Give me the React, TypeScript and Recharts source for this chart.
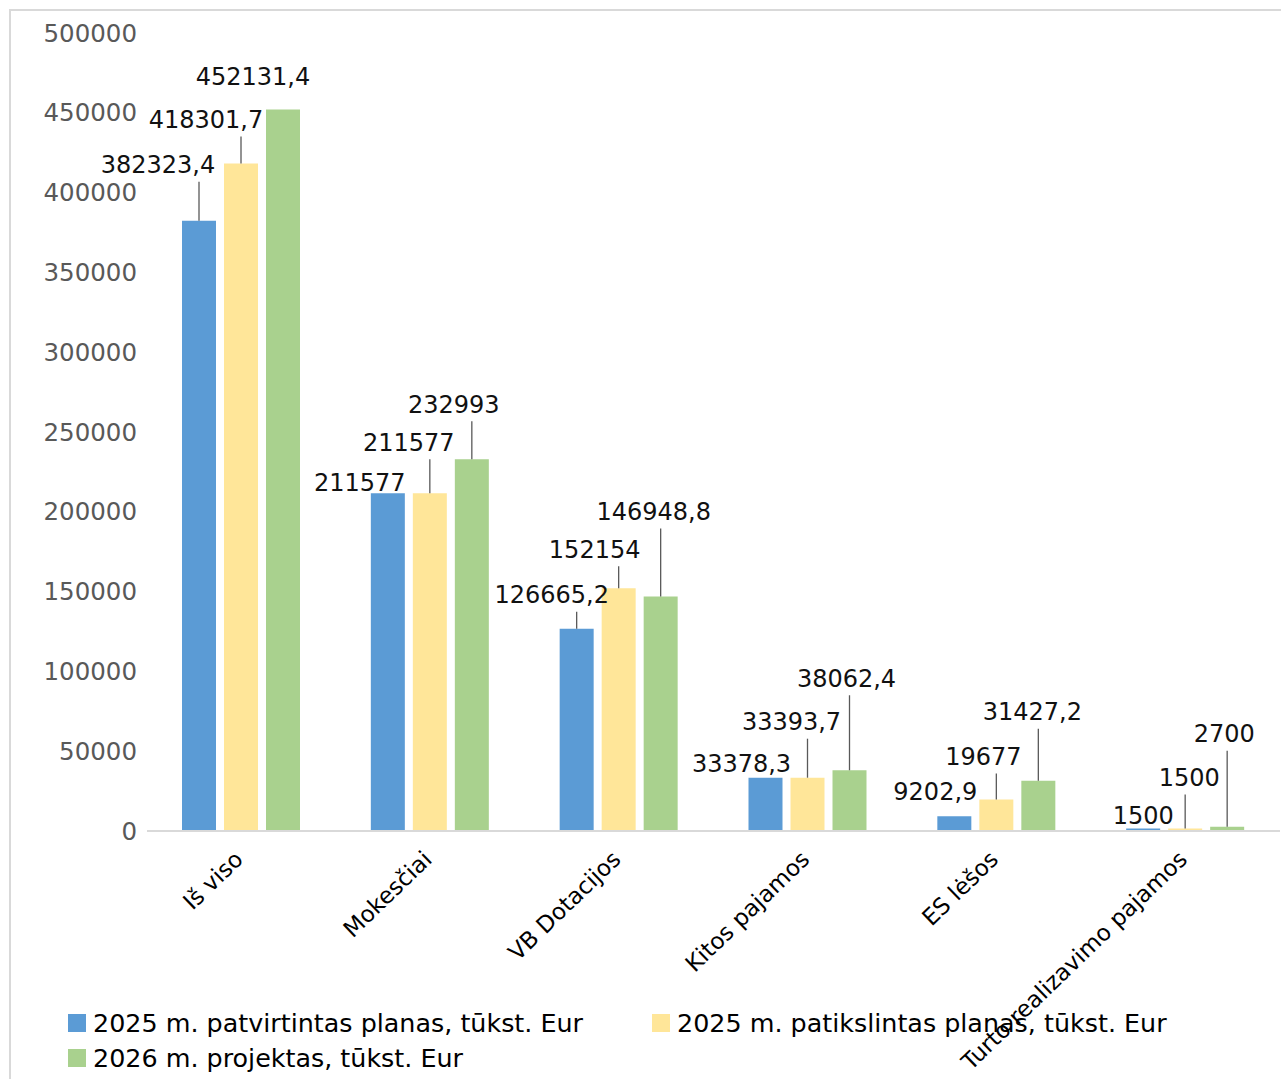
import React from "react";
import { BarChart, Bar, XAxis, YAxis, LabelList, Legend } from "recharts";

const categories: string[] = [
  "Iš viso",
  "Mokesčiai",
  "VB Dotacijos",
  "Kitos pajamos",
  "ES lėšos",
  "Turto realizavimo pajamos",
];

const approved2025: number[] = [382323.4, 211577, 126665.2, 33378.3, 9202.9, 1500];
const revised2025: number[] = [418301.7, 211577, 152154, 33393.7, 19677, 1500];
const project2026: number[] = [452131.4, 232993, 146948.8, 38062.4, 31427.2, 2700];

const seriesNames: string[] = [
  "2025 m. patvirtintas planas, tūkst. Eur",
  "2025 m. patikslintas planas, tūkst. Eur",
  "2026 m. projektas, tūkst. Eur",
];

const yTicks: number[] = [0, 50000, 100000, 150000, 200000, 250000, 300000, 350000, 400000, 450000, 500000];

const colors = ["#5B9BD5", "#FFE699", "#A9D18E"];
const seriesKeys = ["approved", "revised", "project"];

// label centre relative to the top centre of its bar (placed by hand, like the original)
const labelOffsets: [number, number][][] = [
  [[-41, -56], [-28, -11], [-25, -34], [-24, -14], [-19, -25], [0, -13]],
  [[-35, -44], [-21, -51], [-24, -39], [-16, -56], [-13, -43], [4, -51]],
  [[-30, -33], [-18, -55], [-7, -85], [-3, -92], [-6, -69], [-3, -93]],
];

const data = categories.map((name, i) => ({
  name,
  approved: approved2025[i],
  revised: revised2025[i],
  project: project2026[i],
}));

const FONT = "'DejaVu Sans', sans-serif";

const fmt = (v: number) => String(v).replace(".", ",");

const makeLabel = (s: number) => (props: any) => {
  const { x, y, width, value, index } = props;
  const cx = Number(x) + Number(width) / 2;
  const top = Number(y);
  const [dx, dy] = labelOffsets[s][index];
  const lx = cx + dx;
  const ly = top + dy;
  const lineTop = ly + 17;
  return (
    <g>
      {top - lineTop >= 17 && (
        <line x1={cx} y1={top} x2={cx} y2={lineTop} stroke="#595959" strokeWidth={1.3} />
      )}
      <text
        x={lx}
        y={ly}
        dy="0.36em"
        textAnchor="middle"
        fontFamily={FONT}
        fontSize={24}
        fill="#111"
      >
        {fmt(value)}
      </text>
    </g>
  );
};

const CategoryTick = (props: any) => {
  const { x, y, payload } = props;
  const tx = x + 3;
  const ty = y + 22;
  return (
    <text
      x={tx}
      y={ty}
      textAnchor="end"
      transform={`rotate(-44 ${tx} ${ty})`}
      fontFamily={FONT}
      fontSize={23}
      fill="#000"
    >
      {payload.value}
    </text>
  );
};

const LegendContent = () => {
  const item = (i: number, left: number, top: number) => (
    <div
      key={i}
      style={{
        position: "absolute",
        left,
        top,
        display: "flex",
        alignItems: "center",
        whiteSpace: "nowrap",
      }}
    >
      <span style={{ width: 18, height: 18, background: colors[i], display: "inline-block", marginRight: 7 }} />
      <span style={{ fontFamily: FONT, fontSize: 25.4, color: "#000", lineHeight: "30px" }}>{seriesNames[i]}</span>
    </div>
  );
  return (
    <div style={{ position: "relative", width: 1281, height: 74 }}>
      {item(0, 68, 3)}
      {item(1, 652, 3)}
      {item(2, 68, 38)}
    </div>
  );
};

export default function App() {
  return (
    <div
      style={{
        position: "fixed",
        left: 0,
        top: 0,
        width: 1281,
        height: 1079,
        overflow: "hidden",
        background: "#fff",
      }}
    >
      <div
        style={{
          position: "absolute",
          left: 9,
          top: 9,
          width: 1400,
          height: 1200,
          border: "2px solid #d9d9d9",
        }}
      />
      <div style={{ position: "absolute", left: 0, top: 0 }}>
        <BarChart
          width={1281}
          height={1079}
          data={data}
          margin={{ top: 33, right: 1, left: 0, bottom: 0 }}
          barGap={8}
        >
          <XAxis
            dataKey="name"
            interval={0}
            height={174}
            tickLine={false}
            axisLine={{ stroke: "#d9d9d9", strokeWidth: 2 }}
            tick={<CategoryTick />}
          />
          <YAxis
            type="number"
            domain={[0, 500000]}
            ticks={yTicks}
            width={147}
            axisLine={false}
            tickLine={false}
            tickSize={6}
            tickMargin={4}
            tick={{ fill: "#595959", fontSize: 24.5, fontFamily: FONT }}
          />
          <Legend
            verticalAlign="bottom"
            content={<LegendContent />}
            wrapperStyle={{ left: 0, width: 1281, height: 74 }}
          />
          {seriesKeys.map((k, s) => (
            <Bar key={k} dataKey={k} name={seriesNames[s]} fill={colors[s]} barSize={34} isAnimationActive={false}>
              <LabelList dataKey={k} content={makeLabel(s)} />
            </Bar>
          ))}
        </BarChart>
      </div>
    </div>
  );
}
